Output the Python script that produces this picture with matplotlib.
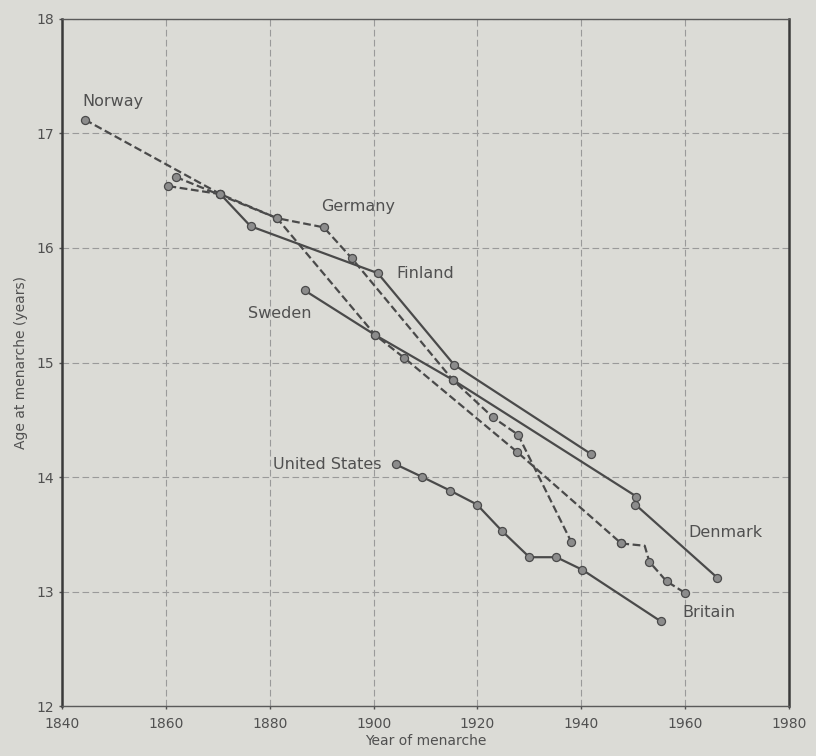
import matplotlib
matplotlib.use("Agg")
import matplotlib.pyplot as plt

# ---- data ----
norway_years = [1844.4, 1870.5, 1881.4, 1900.3, 1905.9, 1927.6, 1947.7]
norway_ages = [17.12, 16.47, 16.26, 15.24, 15.04, 14.22, 13.42]

germany_years = [1861.9, 1881.4, 1890.4, 1895.8, 1915.2, 1923.0, 1927.8, 1938.1]
germany_ages = [16.62, 16.26, 16.18, 15.91, 14.85, 14.52, 14.37, 13.43]

finland_years = [1860.5, 1870.5, 1876.3, 1900.8, 1915.5, 1941.9]
finland_ages = [16.54, 16.47, 16.19, 15.78, 14.98, 14.20]

sweden_years = [1886.7, 1900.3, 1915.2, 1950.6]
sweden_ages = [15.63, 15.24, 14.85, 13.83]

denmark_years = [1950.4, 1966.2]
denmark_ages = [13.76, 13.12]

us_years = [1904.3, 1909.4, 1914.8, 1919.9, 1924.7, 1930.0, 1935.2, 1940.2, 1955.3]
us_ages = [14.11, 14.00, 13.88, 13.76, 13.53, 13.30, 13.30, 13.19, 12.74]

britain_years = [1947.7, 1952.2, 1953.1, 1956.4, 1959.9]
britain_ages = [13.42, 13.40, 13.26, 13.09, 12.99]

x_ticks = [1840, 1860, 1880, 1900, 1920, 1940, 1960, 1980]
y_ticks = [12, 13, 14, 15, 16, 17, 18]

labels = ["Norway", "Germany", "Finland", "Sweden", "United States", "Denmark", "Britain"]
label_x = [1843.9, 1889.8, 1904.3, 1875.9, 1880.7, 1960.7, 1959.5]
label_y = [17.28, 16.36, 15.78, 15.43, 14.11, 13.52, 12.82]

# ---- style ----
BG = "#dbdbd6"
LINE = "#4a4a4a"
TEXT = "#505050"
MFC = "#8c8c8c"
DASH = (0, (3.5, 1.6))

fig = plt.figure(figsize=(8.16, 7.56), dpi=100, facecolor=BG)
ax = fig.add_axes([0.076, 0.066, 0.891, 0.909], facecolor=BG)

mk = dict(marker="o", markersize=5.8, markerfacecolor=MFC, markeredgecolor=LINE,
          markeredgewidth=0.9, color=LINE, lw=1.6)

ax.plot(norway_years, norway_ages, linestyle=DASH, **mk)
ax.plot(germany_years, germany_ages, linestyle=DASH, **mk)
# Finland: first segment dashed, rest solid
ax.plot(finland_years[:2], finland_ages[:2], linestyle=DASH, **mk)
ax.plot(finland_years[1:], finland_ages[1:], linestyle="-", **mk)
ax.plot(sweden_years, sweden_ages, linestyle="-", **mk)
ax.plot(denmark_years, denmark_ages, linestyle="-", **mk)
ax.plot(us_years, us_ages, linestyle="-", **mk)
ax.plot(britain_years, britain_ages, linestyle=DASH, markevery=[0, 2, 3, 4], **mk)

for t, x, y in zip(labels, label_x, label_y):
    ax.text(x, y, t, fontsize=11.5, color=TEXT, ha="left", va="center")

ax.set_xlim(1840, 1980)
ax.set_ylim(12, 18)
ax.set_xticks(x_ticks)
ax.set_yticks(y_ticks)
ax.tick_params(axis="both", labelsize=10, colors=TEXT, length=2, width=1)
ax.tick_params(axis="x", pad=6)
ax.grid(True, linestyle=(0, (6, 3)), color="#9a9a9a", lw=0.8)
ax.set_axisbelow(True)

for side in ["left", "right"]:
    ax.spines[side].set_linewidth(1.8)
    ax.spines[side].set_color("#3a3a3a")
for side in ["top", "bottom"]:
    ax.spines[side].set_linewidth(1.0)
    ax.spines[side].set_color("#5a5a5a")

ax.set_xlabel("Year of menarche", fontsize=10, color=TEXT, labelpad=2)
ax.set_ylabel("Age at menarche (years)", fontsize=10, color=TEXT, labelpad=6)

fig.savefig("out.png", dpi=100, facecolor=BG)
